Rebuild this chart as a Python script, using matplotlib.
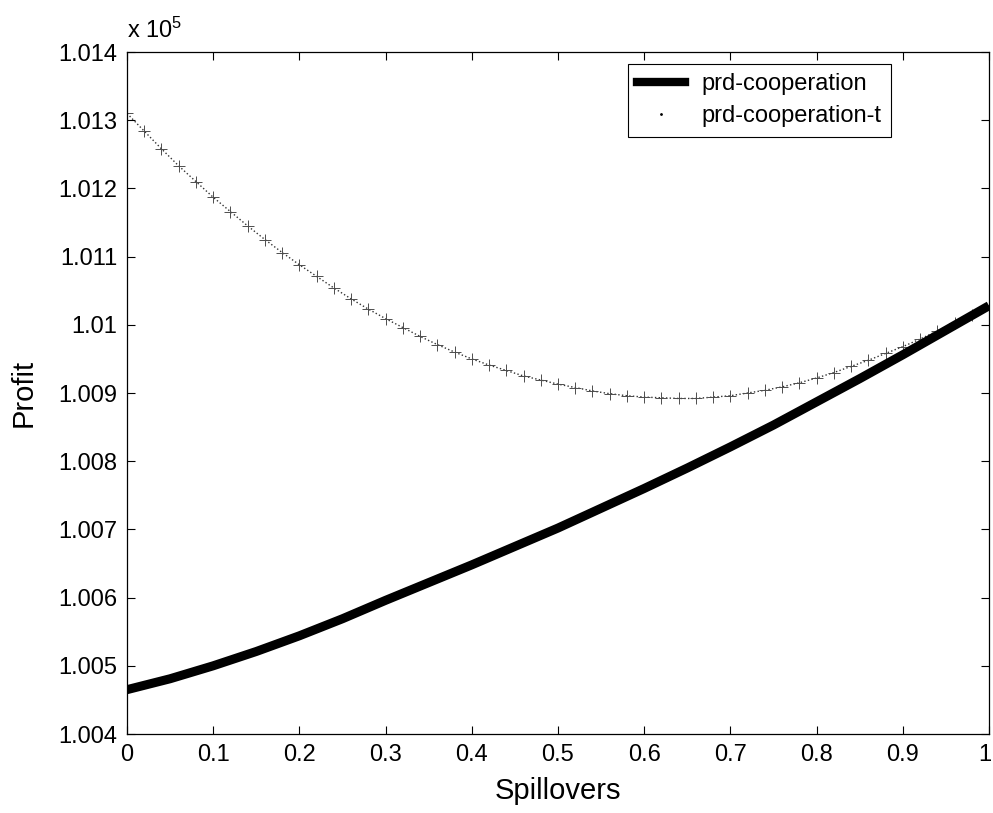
import numpy as np
import matplotlib
matplotlib.use("Agg")
import matplotlib.pyplot as plt
import matplotlib.transforms as mtransforms
from matplotlib.lines import Line2D
from matplotlib.ticker import FuncFormatter

plt.rcParams['font.family'] = ['Liberation Sans', 'DejaVu Sans']
plt.rcParams['mathtext.fontset'] = 'custom'
plt.rcParams['mathtext.rm'] = 'Liberation Sans'
plt.rcParams['mathtext.it'] = 'Liberation Sans'

# profit values in units of 1e5
spill_coop = np.arange(0, 1.0001, 0.05)
profit_coop = [1.00465, 1.00481, 1.00500, 1.00521, 1.00544, 1.00569, 1.00596,
               1.00622, 1.00648, 1.00675, 1.00702, 1.00731, 1.00760, 1.00790,
               1.00821, 1.00853, 1.00887, 1.00921, 1.00956, 1.00992, 1.01028]

spill_coop_t = np.arange(0, 1.0001, 0.02)
profit_coop_t = [1.01310, 1.01284, 1.01258, 1.01233, 1.01210, 1.01187, 1.01166,
                 1.01145, 1.01125, 1.01106, 1.01088, 1.01071, 1.01054, 1.01038,
                 1.01023, 1.01009, 1.00996, 1.00983, 1.00971, 1.00960, 1.00950,
                 1.00941, 1.00933, 1.00925, 1.00919, 1.00913, 1.00908, 1.00903,
                 1.00899, 1.00896, 1.00894, 1.00893, 1.00892, 1.00892, 1.00894,
                 1.00896, 1.00900, 1.00904, 1.00909, 1.00915, 1.00922, 1.00930,
                 1.00939, 1.00948, 1.00958, 1.00968, 1.00979, 1.00991, 1.01003,
                 1.01015, 1.01028]

labels = ['prd-cooperation', 'prd-cooperation-t']

fig = plt.figure(figsize=(9.93, 8.13), dpi=100)
ax = fig.add_axes([127 / 993, 1 - 734 / 813, 862 / 993, 682 / 813])

ax.plot(spill_coop_t, profit_coop_t, linestyle=':', color='0.2', linewidth=1.0,
        marker='+', markersize=9, markeredgewidth=0.7, markeredgecolor='0.3')
ax.plot(spill_coop, profit_coop, color='black', linewidth=6.5,
        solid_capstyle='butt')

ax.set_xlim(0, 1)
ax.set_ylim(1.004, 1.014)
ax.set_xticks(np.arange(0, 1.0001, 0.1))
ax.set_yticks(np.arange(1.004, 1.01401, 0.001))
ax.xaxis.set_major_formatter(FuncFormatter(lambda v, p: '%g' % round(v, 3)))
ax.yaxis.set_major_formatter(FuncFormatter(lambda v, p: '%g' % round(v, 4)))
ax.tick_params(direction='in', top=True, right=True, length=6, width=0.8,
               labelsize=17, pad=7)
for s in ax.spines.values():
    s.set_linewidth(0.9)

# keep the last x label inside the figure
fig.canvas.draw()
last = ax.get_xticklabels()[-1]
last.set_transform(last.get_transform() +
                   mtransforms.ScaledTranslation(-4 / 100, 0, fig.dpi_scale_trans))

ax.set_xlabel('Spillovers', fontsize=21, labelpad=8)
ax.set_ylabel('Profit', fontsize=21, labelpad=15)

fig.text(127 / 993, 1 - 38 / 813, r'x 10$^5$', fontsize=17, va='baseline', ha='left')

handles = [Line2D([], [], color='black', linewidth=6),
           Line2D([], [], color='black', linestyle='none', marker='.', markersize=2)]
leg = ax.legend(handles, labels, loc='upper left',
                bbox_to_anchor=(628 / 993, 1 - 64 / 813),
                bbox_transform=fig.transFigure, borderaxespad=0,
                fontsize=17, handlelength=2.0, handletextpad=0.7,
                borderpad=0.4, labelspacing=0.42, fancybox=False,
                framealpha=1, edgecolor='black')
leg.get_frame().set_linewidth(0.8)

fig.savefig('out.png', dpi=100)
